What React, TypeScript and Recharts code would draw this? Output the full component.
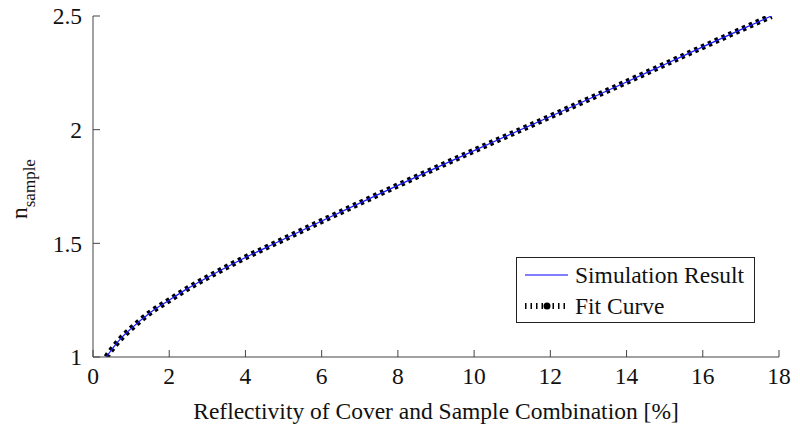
import React from "react";
import { LineChart, Line, XAxis, YAxis, Legend } from "recharts";

// Reflectivity of cover and sample combination [%]
const reflectivity = [0.35, 0.5, 0.75, 1, 1.5, 2, 2.5, 3, 3.5, 4, 4.5, 5, 6, 7, 8, 9, 10, 11, 12, 13, 14, 15, 16, 17, 17.8];
// Simulation result n_sample
const simulationN = [1.0, 1.035, 1.085, 1.125, 1.195, 1.25, 1.303, 1.35, 1.395, 1.438, 1.478, 1.518, 1.598, 1.677, 1.755, 1.832, 1.908, 1.983, 2.058, 2.134, 2.21, 2.287, 2.364, 2.44, 2.5];
// Fit curve n_sample
const fitN = [1.0, 1.035, 1.085, 1.125, 1.195, 1.25, 1.303, 1.35, 1.395, 1.438, 1.478, 1.518, 1.598, 1.677, 1.755, 1.832, 1.908, 1.983, 2.058, 2.134, 2.21, 2.287, 2.364, 2.44, 2.5];

const xTicks = [0, 2, 4, 6, 8, 10, 12, 14, 16, 18];
const yTicks = [1, 1.5, 2, 2.5];

const data = reflectivity.map((r, i) => ({ r, sim: simulationN[i], fit: fitN[i] }));

const FONT = "'Liberation Serif', 'Times New Roman', serif";
const FS = 23.5;
const AXIS = "#444";
const TEXT = "#111";

const LegendBox = () => (
  <div style={{ width: 239, height: 66, border: "1px solid #222", background: "#fff", boxSizing: "border-box" }}>
    <svg width={237} height={64} style={{ display: "block" }}>
      <line x1={8} x2={51} y1={17} y2={17} stroke="#0000ff" strokeWidth={1.2} />
      <text x={58} y={25} fontFamily={FONT} fontSize={FS} fill={TEXT}>Simulation Result</text>
      <line x1={8} x2={51} y1={48} y2={48} stroke="#000" strokeWidth={6} strokeDasharray="1.5 4" />
      <circle cx={30} cy={48} r={3.5} fill="#000" />
      <text x={58} y={56} fontFamily={FONT} fontSize={FS} fill={TEXT}>Fit Curve</text>
    </svg>
  </div>
);

const YLabel = () => (
  <text x={27} y={219} transform="rotate(-90, 27, 219)" fontFamily={FONT} fill={TEXT}>
    <tspan fontSize={FS}>n</tspan>
    <tspan fontSize={17} dy={8}>sample</tspan>
  </text>
);

export default function App() {
  return (
    <div style={{ position: "absolute", left: 0, top: 0, background: "#fff" }}>
      <LineChart width={800} height={433} data={data} margin={{ top: 16, right: 21, bottom: 0, left: 33 }}>
        <XAxis
          dataKey="r"
          type="number"
          domain={[0, 18]}
          ticks={xTicks}
          height={76}
          tickSize={-7}
          tickMargin={17}
          stroke={AXIS}
          tick={{ fill: TEXT, fontSize: FS, fontFamily: FONT }}
          allowDataOverflow
          label={{
            value: "Reflectivity of Cover and Sample Combination [%]",
            position: "insideBottom",
            offset: 14,
            fill: TEXT,
            fontSize: FS,
            fontFamily: FONT,
          }}
        />
        <XAxis
          xAxisId="top"
          orientation="top"
          type="number"
          domain={[0, 18]}
          ticks={xTicks}
          height={0}
          tickSize={-7}
          tick={false}
          stroke={AXIS}
          allowDataOverflow
        />
        <YAxis
          type="number"
          domain={[1, 2.5]}
          ticks={yTicks}
          width={60}
          tickSize={-7}
          tickMargin={18}
          stroke={AXIS}
          tick={{ fill: TEXT, fontSize: FS, fontFamily: FONT }}
          allowDataOverflow
          label={{ content: () => <YLabel /> }}
        />
        <YAxis
          yAxisId="right"
          orientation="right"
          type="number"
          domain={[1, 2.5]}
          ticks={yTicks}
          width={0}
          tickSize={-7}
          tick={false}
          stroke={AXIS}
          allowDataOverflow
        />
        <Legend
          layout="vertical"
          align="center"
          verticalAlign="middle"
          content={() => <LegendBox />}
          wrapperStyle={{ left: 516, top: 257, width: 239, height: 66 }}
        />
        <Line
          dataKey="fit"
          type="monotone"
          stroke="#000"
          strokeWidth={6}
          strokeDasharray="3.5 4"
          dot={false}
          isAnimationActive={false}
        />
        <Line
          dataKey="sim"
          type="monotone"
          stroke="#1a1aff"
          strokeWidth={1.2}
          dot={false}
          isAnimationActive={false}
        />
      </LineChart>
    </div>
  );
}
